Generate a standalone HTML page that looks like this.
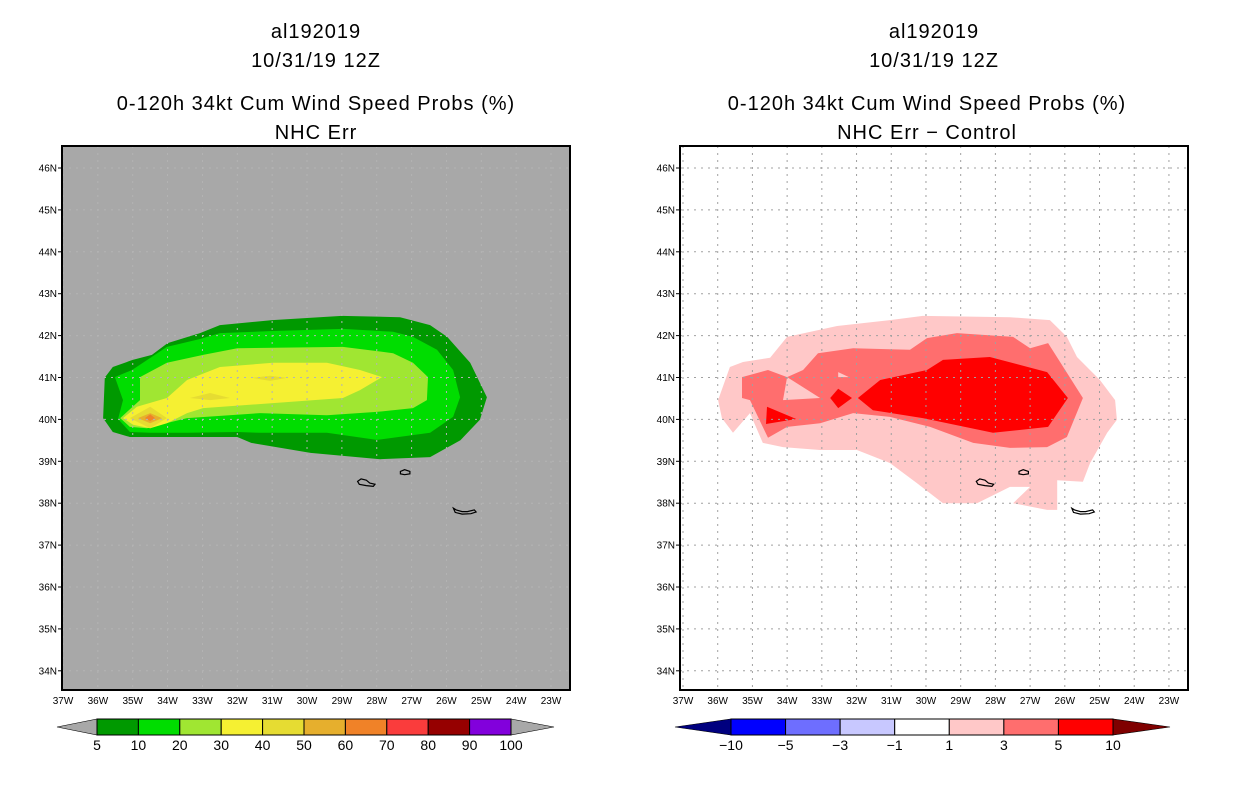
<!DOCTYPE html>
<html><head><meta charset="utf-8"><style>
html,body{margin:0;padding:0;background:#fff;}
svg text{font-family:"Liberation Sans",sans-serif;}
</style></head><body>
<svg id="root" width="1236" height="800" viewBox="0 0 1236 800" xmlns="http://www.w3.org/2000/svg">
<g id="titles" font-size="20" text-anchor="middle" fill="#000" letter-spacing="1">
<text x="316" y="38">al192019</text>
<text x="316" y="67">10/31/19 12Z</text>
<text x="316" y="110">0-120h 34kt Cum Wind Speed Probs (%)</text>
<text x="316" y="139">NHC Err</text>
<text x="934" y="38">al192019</text>
<text x="934" y="67">10/31/19 12Z</text>
<text x="927" y="110">0-120h 34kt Cum Wind Speed Probs (%)</text>
<text x="927" y="139">NHC Err − Control</text>
</g>
</svg>
<script>
// ---- data (lon W, lat N) ----
const lonTicks=[37,36,35,34,33,32,31,30,29,28,27,26,25,24,23];
const latTicks=[46,45,44,43,42,41,40,39,38,37,36,35,34];
const probLevels=[5,10,20,30,40,50,60,70,80,90,100];
const probColors=["#009900","#00dd00","#a0e632","#f5f032","#e6dc32","#e6af2d","#f08228","#fa3c3c","#960000","#8200dc"];
const diffLevels=[-10,-5,-3,-1,1,3,5,10];
const diffColors=["#00007f","#0000ff","#6e6eff","#c8c8ff","#ffffff","#ffc8c8","#ff6e6e","#ff0000","#7f0000"];
const prob5=[[35.85,40.03],[35.8,41.0],[35.57,41.25],[35.0,41.42],[34.45,41.54],[34.0,41.82],[33.07,42.06],[32.5,42.25],[31.0,42.37],[29.0,42.47],[27.33,42.44],[26.47,42.25],[25.98,41.97],[25.32,41.35],[24.84,40.53],[25.04,39.99],[25.6,39.5],[26.47,39.1],[27.9,39.05],[29.9,39.2],[31.6,39.44],[32.0,39.58],[35.08,39.58],[35.57,39.7]];
const prob10=[[35.42,40.01],[35.28,40.46],[35.51,41.01],[35.02,41.18],[34.02,41.73],[33.07,41.92],[32.5,42.06],[30.98,42.11],[28.97,42.16],[27.53,42.09],[26.96,41.97],[26.27,41.66],[25.81,41.18],[25.61,40.53],[25.81,40.06],[26.47,39.68],[28.0,39.51],[29.43,39.68],[31.35,39.68],[32.0,39.7],[33.44,39.68],[34.5,39.68],[35.08,39.7]];
const prob20=[[35.36,40.03],[34.79,40.46],[34.79,41.01],[34.02,41.35],[32.98,41.54],[32.0,41.7],[28.97,41.73],[27.53,41.58],[26.96,41.35],[26.53,41.01],[26.56,40.46],[26.96,40.27],[28.0,40.18],[29.43,40.1],[31.35,40.15],[33.44,40.03],[34.22,39.87],[34.59,39.79],[35.08,39.82]];
const prob30=[[35.28,40.03],[34.88,40.3],[34.02,40.51],[33.44,40.94],[32.5,41.25],[30.98,41.35],[29.43,41.35],[28.48,41.18],[27.85,41.01],[28.48,40.7],[28.97,40.51],[30.98,40.39],[32.98,40.27],[33.44,40.15],[34.02,39.91],[34.5,39.79],[34.99,39.87]];
const prob40a=[[35.08,40.03],[34.5,40.3],[34.02,40.03],[34.5,39.79]];
const prob40b=[[33.36,40.51],[32.78,40.63],[32.21,40.51],[32.78,40.46]];
const prob40c=[[31.58,40.99],[31.06,41.04],[30.57,40.99],[31.06,40.92]];
const prob50=[[34.85,40.03],[34.5,40.15],[34.16,40.03],[34.5,39.91]];
const prob60=[[34.65,40.03],[34.5,40.12],[34.36,40.03],[34.5,39.96]];
const diff1=[[35.99,40.46],[35.65,41.25],[35.27,41.37],[34.49,41.47],[34.0,41.97],[32.56,42.23],[31.04,42.37],[30.09,42.47],[27.58,42.44],[26.43,42.37],[25.94,41.97],[25.65,41.49],[24.99,40.94],[24.55,40.46],[24.5,39.99],[24.78,39.68],[25.27,38.96],[25.48,38.51],[26.22,38.55],[26.22,37.84],[26.51,37.84],[27.49,38.0],[27.0,38.39],[27.58,38.39],[28.53,38.0],[29.51,38.0],[30.26,38.48],[31.04,38.96],[31.99,39.27],[33.05,39.27],[34.12,39.34],[34.7,39.44],[35.07,40.15],[35.56,39.68],[35.88,40.03]];
const diff3=[[35.3,41.01],[34.55,41.18],[34.0,41.01],[33.54,41.18],[33.11,41.58],[32.1,41.7],[30.46,41.66],[29.97,41.94],[29.11,42.06],[27.49,41.97],[27.0,41.7],[26.48,41.82],[25.48,40.51],[25.94,39.58],[26.51,39.34],[27.58,39.32],[28.64,39.44],[29.88,39.82],[31.04,40.06],[32.1,40.15],[33.05,39.91],[34.0,39.82],[34.55,39.56],[35.07,40.46],[35.3,40.51]];
const diff1holeA=[[34.0,41.01],[33.05,40.51],[34.12,40.46]];
const diff1holeB=[[32.53,41.13],[32.22,41.01],[32.53,41.01]];
const diff5a=[[31.96,40.51],[31.32,40.94],[29.97,41.18],[29.51,41.42],[28.16,41.49],[26.51,41.13],[25.91,40.51],[26.48,39.82],[28.07,39.68],[30.09,40.03],[31.53,40.22]];
const diff5b=[[32.76,40.51],[32.53,40.73],[32.13,40.51],[32.53,40.27]];
const diff5c=[[34.58,40.3],[33.74,40.01],[34.61,39.89]];
const islandA=[[28.55,38.52],[28.45,38.58],[28.3,38.55],[28.2,38.48],[28.05,38.45],[28.1,38.4],[28.3,38.42],[28.5,38.45]];
const islandB=[[27.32,38.76],[27.2,38.8],[27.05,38.76],[27.05,38.7],[27.2,38.68],[27.32,38.7]];
const islandC=[[25.8,37.88],[25.72,37.84],[25.55,37.8],[25.4,37.8],[25.2,37.84],[25.15,37.79],[25.3,37.75],[25.55,37.74],[25.75,37.78]];

const NS="http://www.w3.org/2000/svg";
const root=document.getElementById('root');
function mk(tag,attrs,parent){const e=document.createElementNS(NS,tag);for(const k in attrs)e.setAttribute(k,attrs[k]);(parent||root).appendChild(e);return e;}

function makePanel(x0,lon37x,lonStep,bg,name){
  const y0=146,w=508,h=544;
  const sx=lon=>lon37x+(37-lon)*lonStep;
  const sy=lat=>168+(46-lat)*41.9;
  const g=mk('g',{});
  
  
  const cp=mk('clipPath',{id:name+'-clip'},g);
  mk('rect',{x:x0,y:y0,width:w,height:h},cp);
  const bgr=mk('rect',{x:x0,y:y0,width:w,height:h,fill:bg},g);
  
  
  const inner=mk('g',{'clip-path':'url(#'+name+'-clip)'},g);
  return {g,inner,sx,sy,x0,y0,w,h};
}
function poly(P,pts,fill,nm,stroke){
  const d=pts.map(p=>P.sx(p[0]).toFixed(1)+','+P.sy(p[1]).toFixed(1)).join(' ');
  const e=mk('polygon',{points:d,fill:fill||'none'},P.inner);
  if(stroke){e.setAttribute('stroke',stroke);e.setAttribute('stroke-width','1.2');}
  
  
}
function gridAxes(P,labelPrefix,gridCol){
  lonTicks.forEach(l=>{
    const x=P.sx(l);
    const gl=mk('line',{x1:x,y1:P.y0,x2:x,y2:P.y0+P.h,stroke:gridCol,'stroke-width':1,'stroke-dasharray':'2,5'},P.inner);
    
    
    const t=mk('text',{x:x,y:704,'font-size':10,'text-anchor':'middle'},P.g);
    t.textContent=l+'W';
    
    
  });
  latTicks.forEach(l=>{
    const y=P.sy(l);
    const gl=mk('line',{x1:P.x0,y1:y,x2:P.x0+P.w,y2:y,stroke:gridCol,'stroke-width':1,'stroke-dasharray':'2,5'},P.inner);
    
    
    mk('line',{x1:P.x0-4,y1:y,x2:P.x0,y2:y,stroke:'#000'},P.g);
    const t=mk('text',{x:P.x0-5,y:y+3.5,'font-size':10,'text-anchor':'end'},P.g);
    t.textContent=l+'N';
    
    
  });
}
function islands(P){
  [islandA,islandB,islandC].forEach((isl,i)=>poly(P,isl,'none','island-outline-'+i,'#000'));
}
function frame(P){
  const f=mk('rect',{x:P.x0,y:P.y0,width:P.w,height:P.h,fill:'none',stroke:'#000','stroke-width':2},P.g);
  
  
}

// left panel
const L=makePanel(62,63,34.86,'#a8a8a8','left-map');
poly(L,prob5,probColors[0],'prob-5');
poly(L,prob10,probColors[1],'prob-10');
poly(L,prob20,probColors[2],'prob-20');
poly(L,prob30,probColors[3],'prob-30');
poly(L,prob40a,probColors[4],'prob-40-a');
poly(L,prob40b,probColors[4],'prob-40-b');
poly(L,prob40c,probColors[4],'prob-40-c');
poly(L,prob50,probColors[5],'prob-50');
poly(L,prob60,probColors[6],'prob-60');
gridAxes(L,'left','#b4b4b4');
islands(L);
frame(L);

// right panel
const R=makePanel(680,683,34.71,'#ffffff','right-map');
poly(R,diff1,diffColors[5],'diff-1');
poly(R,diff3,diffColors[6],'diff-3');
poly(R,diff1holeA,diffColors[5],'diff-1-hole-a');
poly(R,diff1holeB,diffColors[5],'diff-1-hole-b');
poly(R,diff5a,diffColors[7],'diff-5-a');
poly(R,diff5b,diffColors[7],'diff-5-b');
poly(R,diff5c,diffColors[7],'diff-5-c');
gridAxes(R,'right','#a0a0a0');
islands(R);
frame(R);

// colorbars
function colorbar(x0,x1,tipL,tipR,colors,levels,lowCol,highCol,name){
  const g=mk('g',{});
  
  
  const y0=719,y1=735,ym=727;
  const n=colors.length, bw=(x1-x0)/n;
  const tl=mk('polygon',{points:`${tipL},${ym} ${x0},${y0} ${x0},${y1}`,fill:lowCol,stroke:'#000','stroke-width':0.6},g);
  
  
  const tr=mk('polygon',{points:`${tipR},${ym} ${x1},${y0} ${x1},${y1}`,fill:highCol,stroke:'#000','stroke-width':0.6},g);
  
  
  colors.forEach((c,i)=>{
    const r=mk('rect',{x:x0+i*bw,y:y0,width:bw,height:y1-y0,fill:c,stroke:'#000','stroke-width':1},g);
    
    
  });
  levels.forEach((v,i)=>{
    const t=mk('text',{x:x0+i*bw,y:750,'font-size':14,'text-anchor':'middle'},g);
    t.textContent=v<0?'\u2212'+(-v):String(v);
    
    
  });
}
colorbar(97,511,57,554,probColors,probLevels,'#a8a8a8','#a8a8a8','prob-colorbar');
colorbar(731,1113,675,1170,diffColors.slice(1,8),diffLevels,diffColors[0],diffColors[8],'diff-colorbar');
</script>
</body></html>
